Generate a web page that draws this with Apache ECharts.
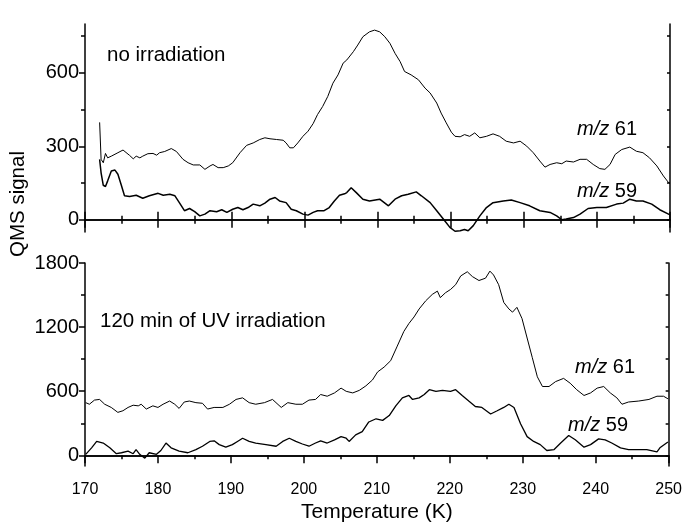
<!DOCTYPE html>
<html>
<head>
<meta charset="utf-8">
<script src="https://cdn.jsdelivr.net/npm/echarts@6/dist/echarts.min.js"></script>
<style>html,body{margin:0;padding:0;background:#fff}#c{width:685px;height:524px}</style>
</head>
<body>
<div id="c"></div>
<script>
// ---- data: [temperature (K), QMS signal] ----
const noIrr61 = [[172.0,398],[172.2,247],[172.5,233],[172.8,271],[173.1,253],[173.6,260],[174.5,274],[175.2,285],[175.4,279],[176.1,263],[176.6,249],[177.0,260],[177.5,253],[177.9,260],[178.6,270],[179.3,271],[179.8,264],[180.2,274],[180.9,279],[181.8,291],[182.5,279],[183.4,247],[184.1,233],[184.8,224],[185.7,224],[186.4,206],[187.1,220],[187.5,226],[188.2,213],[188.9,213],[189.6,220],[190.2,233],[191.2,274],[192.1,304],[193.0,314],[193.9,328],[194.6,335],[195.3,331],[196.2,328],[197.1,325],[197.5,314],[198.0,294],[198.5,294],[199.1,314],[199.8,341],[200.5,362],[201.2,393],[201.8,430],[202.5,463],[203.2,504],[203.9,558],[204.6,592],[205.3,640],[205.8,653],[206.7,687],[207.3,714],[208.0,748],[208.9,768],[209.6,775],[210.3,768],[211.0,748],[211.7,721],[212.4,680],[213.1,646],[213.7,606],[214.6,592],[215.6,572],[216.5,538],[217.2,518],[218.1,477],[218.7,436],[219.4,396],[220.1,358],[220.6,341],[221.3,339],[221.9,348],[222.6,341],[223.3,355],[224.0,335],[224.9,341],[225.8,351],[226.7,341],[227.6,321],[228.6,314],[229.5,321],[230.4,301],[231.3,274],[232.2,240],[232.9,215],[233.6,226],[234.5,233],[235.2,229],[235.8,240],[236.8,236],[237.7,247],[238.6,247],[239.5,226],[240.4,209],[241.1,206],[241.8,226],[242.5,267],[243.4,287],[244.5,297],[245.4,280],[246.3,274],[247.2,253],[248.2,220],[249.1,179],[249.8,152],[250.0,148]];
const noIrr59 = [[172.0,247],[172.2,192],[172.5,141],[172.8,136],[173.1,159],[173.6,199],[174.1,203],[174.5,186],[175.0,138],[175.4,98],[176.1,95],[177.0,100],[177.9,88],[178.8,98],[180.0,108],[180.7,100],[181.6,104],[182.3,98],[182.9,70],[183.6,37],[184.3,46],[185.0,33],[185.7,16],[186.4,23],[187.1,37],[188.0,33],[188.7,41],[189.4,30],[190.2,43],[190.9,50],[191.6,41],[192.3,50],[193.0,64],[193.9,57],[194.6,68],[195.3,84],[196.0,91],[196.6,77],[197.5,70],[198.2,43],[198.9,37],[199.8,23],[200.5,19],[201.2,30],[201.8,37],[202.7,37],[203.4,50],[204.1,77],[204.8,100],[205.5,106],[205.8,111],[206.4,131],[207.1,111],[208.0,84],[208.9,77],[210.3,84],[211.5,57],[212.4,84],[213.3,98],[214.2,104],[215.3,114],[216.0,98],[217.2,70],[218.1,37],[219.0,3],[219.9,-31],[220.6,-47],[221.3,-45],[221.9,-40],[222.4,-45],[223.1,-24],[224.0,16],[224.9,50],[225.8,70],[227.2,77],[228.3,81],[229.5,70],[230.8,57],[232.2,37],[233.6,30],[234.5,16],[235.2,0],[235.8,3],[236.8,9],[237.7,23],[238.8,46],[240.0,50],[241.3,50],[242.7,64],[243.6,68],[244.5,84],[245.4,77],[246.3,77],[247.5,64],[248.6,41],[249.8,23],[250.0,20]];
const uv61 = [[170.1,493],[170.6,478],[171.3,517],[172.0,523],[172.7,478],[173.6,448],[174.5,402],[175.2,417],[175.9,448],[176.6,469],[177.3,463],[177.7,478],[178.4,433],[179.3,463],[180.0,448],[180.7,478],[181.6,508],[182.3,478],[182.9,439],[183.6,499],[184.3,508],[185.2,493],[186.1,487],[186.8,433],[187.7,448],[188.9,448],[189.8,478],[190.7,523],[191.6,538],[192.5,493],[193.4,478],[194.6,493],[195.7,523],[196.9,448],[197.8,493],[198.9,478],[199.8,478],[200.7,517],[201.6,523],[202.3,569],[203.2,553],[204.2,584],[205.1,629],[205.8,599],[206.7,584],[207.6,608],[208.5,650],[209.4,705],[210.1,780],[211.0,826],[211.9,886],[212.8,1022],[213.7,1159],[214.4,1234],[215.1,1295],[215.8,1370],[216.7,1446],[217.6,1506],[218.3,1537],[218.7,1476],[219.4,1521],[220.1,1552],[220.8,1597],[221.5,1679],[222.4,1718],[223.1,1673],[224.0,1636],[224.9,1658],[225.5,1724],[226.0,1688],[226.7,1597],[227.4,1431],[228.1,1370],[228.6,1340],[229.2,1385],[229.9,1280],[230.6,1098],[231.3,917],[232.0,735],[232.7,644],[233.6,644],[234.5,690],[235.6,720],[236.5,675],[237.4,614],[238.4,560],[239.3,584],[240.2,629],[241.1,644],[242.0,584],[242.9,538],[243.6,478],[244.5,499],[245.9,508],[247.3,523],[248.4,553],[249.3,553],[249.9,529]];
const uv59 = [[170.1,9],[170.9,70],[171.6,130],[172.5,115],[173.4,70],[174.3,15],[175.0,24],[175.9,39],[176.6,15],[177.0,54],[177.5,9],[178.2,-27],[178.8,24],[179.8,9],[180.4,45],[181.1,115],[181.8,70],[182.9,39],[184.1,24],[185.2,54],[186.1,85],[187.1,130],[187.7,136],[188.4,100],[189.3,76],[190.2,100],[190.9,130],[191.6,160],[192.5,130],[193.4,115],[194.8,100],[196.2,85],[197.1,130],[198.0,160],[198.9,130],[199.8,106],[200.7,85],[201.6,115],[202.3,136],[203.2,115],[204.2,145],[205.1,175],[205.8,160],[206.2,130],[207.1,191],[208.0,221],[208.9,312],[209.9,342],[210.8,327],[211.7,372],[212.6,463],[213.5,538],[214.4,560],[214.9,523],[215.8,538],[216.5,569],[217.2,614],[218.1,599],[219.0,608],[220.1,599],[220.8,614],[221.7,560],[222.6,508],[223.5,457],[224.4,448],[225.6,387],[226.5,417],[227.4,448],[228.1,478],[228.8,448],[229.7,296],[230.6,175],[231.5,130],[232.4,100],[233.3,45],[234.3,54],[235.2,115],[236.3,185],[237.2,145],[238.4,76],[239.3,100],[240.4,154],[241.3,145],[242.2,115],[243.4,70],[244.5,54],[245.9,54],[247.0,54],[248.4,33],[248.8,70],[249.9,124]];

// ---- axis ranges & tick values ----
const xRange = [170, 250];
const xStep = 10;
const topRange = [-50, 800];
const topMajor = [0, 300, 600];
const topMinor = [150, 450, 750];
const topRight = [0, 150, 300, 450, 600, 750];
const botRange = [-100, 1800];
const botMajor = [0, 600, 1200, 1800];
const botMinor = [300, 900, 1500];
const botRight = [0, 300, 600, 900, 1200, 1500, 1800];

const FONT = 'Liberation Sans, Arial, Helvetica, sans-serif';
const BLACK = '#000';
const line = {show: true, lineStyle: {color: BLACK, width: 1.5}};

function xAx(grid, pos, inside, labels) {
  return {
    type: 'value', gridIndex: grid, position: pos, min: xRange[0], max: xRange[1], interval: xStep,
    axisLine: line, splitLine: {show: false},
    axisTick: {show: true, inside: inside, length: 8, lineStyle: {color: BLACK, width: 1.5}},
    minorTick: {show: true, splitNumber: 2, length: 4, lineStyle: {color: BLACK, width: 1.5}},
    axisLabel: {show: labels, color: BLACK, fontFamily: FONT, fontSize: 16, margin: 16},
  };
}
function yAx(grid, range, pos, inside, ticks, len, labels, showLine) {
  return {
    type: 'value', gridIndex: grid, position: pos, min: range[0], max: range[1],
    axisLine: showLine ? line : {show: false}, splitLine: {show: false},
    axisTick: {show: true, inside: inside, length: len, customValues: ticks, lineStyle: {color: BLACK, width: 1.5}},
    axisLabel: labels ? {show: true, customValues: ticks, formatter: v => String(v), color: BLACK, fontFamily: FONT, fontSize: 20, margin: 6} : {show: false},
  };
}

const xAxes = [xAx(0, 'bottom', false, false), xAx(0, 'top', false, false), xAx(1, 'bottom', false, true), xAx(1, 'top', true, false)];
xAxes[2].name = 'Temperature (K)';
xAxes[2].nameLocation = 'middle';
xAxes[2].nameGap = 36;
xAxes[2].nameTextStyle = {color: BLACK, fontFamily: FONT, fontSize: 21};

const yAxes = [
  yAx(0, topRange, 'left', false, topMajor, 6, true, true),
  yAx(0, topRange, 'left', false, topMinor, 4, false, false),
  yAx(0, topRange, 'right', true, topRight, 3, false, true),
  yAx(1, botRange, 'left', false, botMajor, 6, true, true),
  yAx(1, botRange, 'left', false, botMinor, 4, false, false),
  yAx(1, botRange, 'right', true, botRight, 3, false, true),
];

function ser(data, xi, yi, w) {
  return {type: 'line', data: data, xAxisIndex: xi, yAxisIndex: yi, showSymbol: false, symbol: 'none',
    lineStyle: {color: BLACK, width: w}, animation: false};
}

function label(x, y, text, size) {
  return {type: 'text', x: x, y: y, style: {text: text, fill: BLACK, fontFamily: FONT, fontSize: size,
    verticalAlign: 'middle', textVerticalAlign: 'middle',
    rich: {i: {fontStyle: 'italic', fontFamily: FONT, fontSize: size, fill: BLACK}, n: {fontFamily: FONT, fontSize: size, fill: BLACK}}}};
}

const chart = echarts.init(document.getElementById('c'), null, {renderer: 'canvas'});
chart.setOption({
  animation: false,
  backgroundColor: '#fff',
  grid: [
    {left: 85, right: 15, top: 24, height: 208},
    {left: 85, right: 15, top: 263, height: 209},
  ],
  xAxis: xAxes,
  yAxis: yAxes,
  series: [ser(noIrr61, 0, 0, 1.0), ser(noIrr59, 0, 0, 1.5), ser(uv61, 2, 3, 1.0), ser(uv59, 2, 3, 1.3)],
  graphic: [
    label(107, 55, 'no irradiation', 20.5),
    label(577, 129, '{i|m/z}{n| 61}', 20),
    label(577, 191, '{i|m/z}{n| 59}', 20),
    label(100, 321, '120 min of UV irradiation', 20.5),
    label(575, 367, '{i|m/z}{n| 61}', 20),
    label(568, 425, '{i|m/z}{n| 59}', 20),
    {type: 'text', x: 18, y: 204, rotation: Math.PI / 2,
      style: {text: 'QMS signal', fill: BLACK, fontFamily: FONT, fontSize: 20.5, align: 'center', textAlign: 'center', verticalAlign: 'middle', textVerticalAlign: 'middle'}},
  ],
});
</script>
</body>
</html>
